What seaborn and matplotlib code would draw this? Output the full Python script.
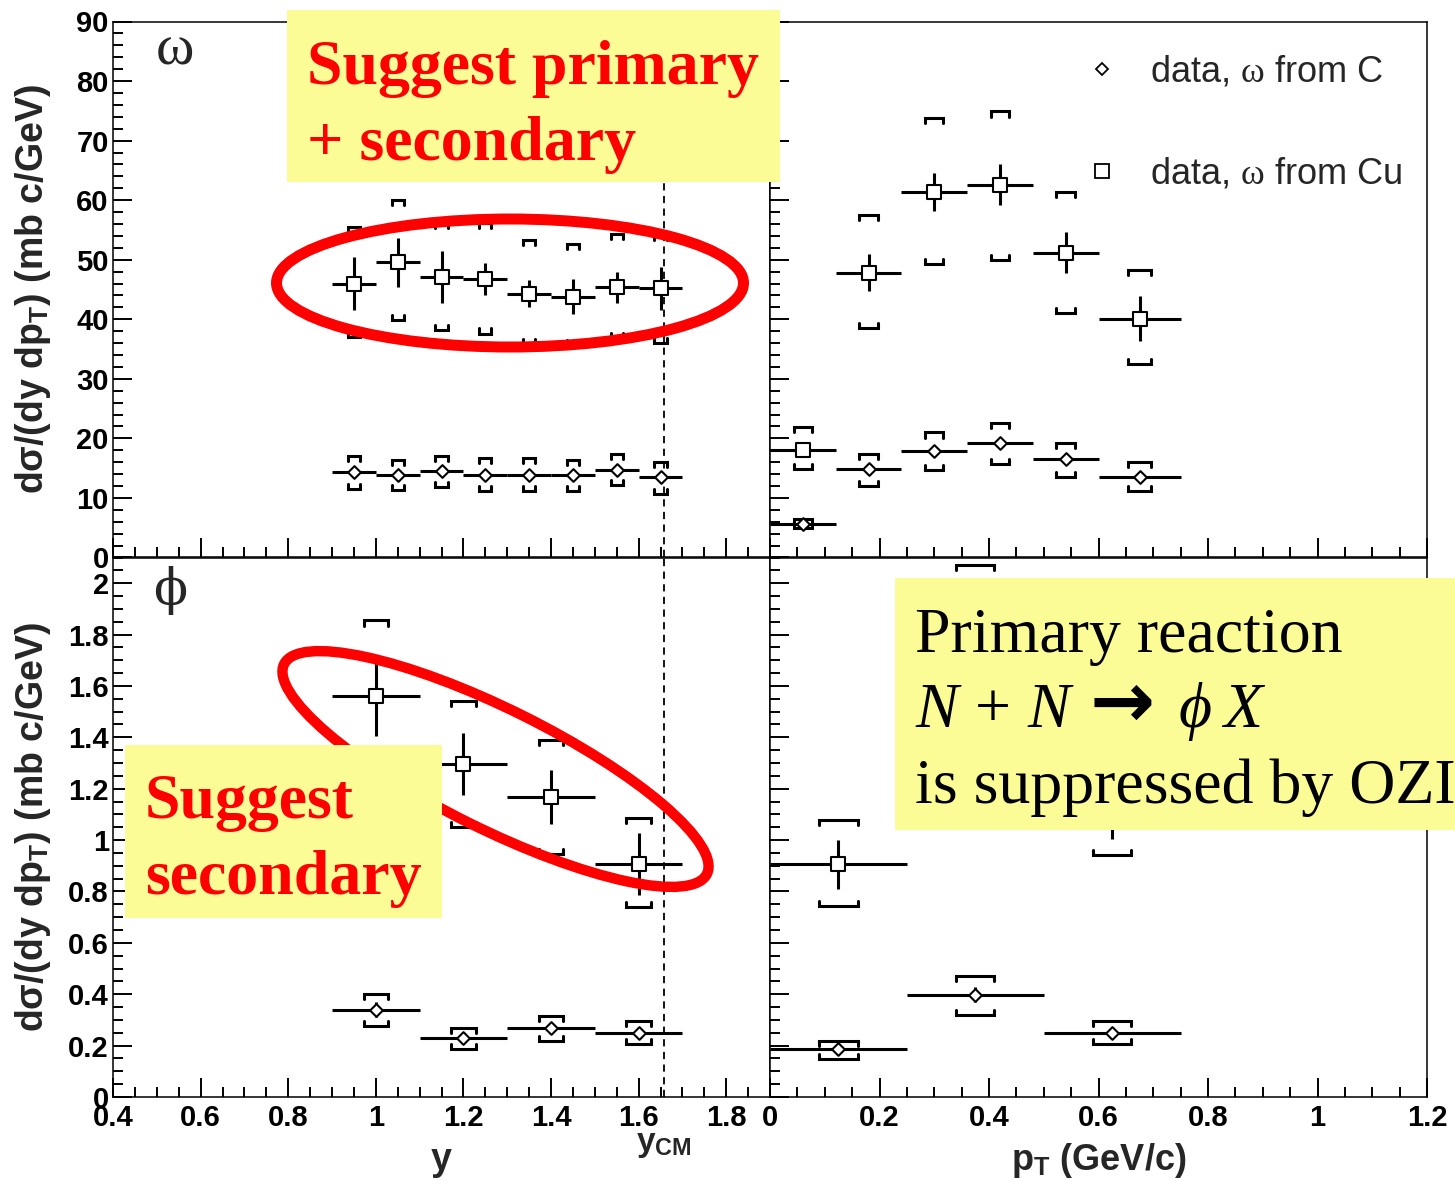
import numpy as np
import matplotlib
matplotlib.use("Agg")
import matplotlib.pyplot as plt
import matplotlib.transforms as mtransforms
import seaborn as sns
from matplotlib.ticker import MultipleLocator, FuncFormatter
from matplotlib.patches import Ellipse, Rectangle
from matplotlib.lines import Line2D

# ---------------- omega vs rapidity ----------------
omega_y = [0.95, 1.05, 1.15, 1.25, 1.35, 1.45, 1.55, 1.65]
omega_y_lo = [0.90, 1.00, 1.10, 1.20, 1.30, 1.40, 1.50, 1.60]
omega_y_hi = [1.00, 1.10, 1.20, 1.30, 1.40, 1.50, 1.60, 1.70]
omega_y_cu = [46.0, 49.6, 47.1, 46.8, 44.3, 43.8, 45.4, 45.2]
omega_y_cu_stat = [4.4, 4.1, 4.4, 2.7, 2.3, 2.9, 2.6, 3.6]
omega_y_cu_sys_hi = [55.5, 60.0, 56.1, 56.1, 53.3, 52.6, 54.4, 54.1]
omega_y_cu_sys_lo = [37.0, 39.8, 38.2, 37.6, 35.9, 35.6, 36.8, 36.0]
omega_y_c = [14.3, 13.8, 14.5, 13.8, 13.8, 13.8, 14.7, 13.6]
omega_y_c_stat = [0.8, 0.8, 0.8, 0.8, 0.8, 0.8, 0.8, 0.8]
omega_y_c_sys_hi = [17.0, 16.4, 17.1, 16.7, 16.7, 16.4, 17.4, 16.0]
omega_y_c_sys_lo = [11.5, 11.3, 11.8, 11.1, 11.1, 11.1, 12.1, 10.7]

# ---------------- omega vs pT ----------------
omega_pt = [0.06, 0.18, 0.30, 0.42, 0.54, 0.675]
omega_pt_lo = [0.00, 0.12, 0.24, 0.36, 0.48, 0.60]
omega_pt_hi = [0.12, 0.24, 0.36, 0.48, 0.60, 0.75]
omega_pt_cu = [18.1, 47.8, 61.4, 62.6, 51.2, 40.1]
omega_pt_cu_stat = [1.0, 3.1, 3.2, 3.4, 3.5, 3.8]
omega_pt_cu_sys_hi = [21.9, 57.5, 73.8, 74.9, 61.4, 48.3]
omega_pt_cu_sys_lo = [14.8, 38.5, 49.3, 50.0, 41.0, 32.5]
omega_pt_c = [5.7, 14.8, 17.8, 19.2, 16.5, 13.6]
omega_pt_c_stat = [0.5, 0.8, 0.8, 0.8, 0.8, 0.8]
omega_pt_c_sys_hi = [6.4, 17.4, 21.0, 22.6, 19.2, 16.0]
omega_pt_c_sys_lo = [5.0, 12.0, 14.7, 15.7, 13.5, 11.1]

# ---------------- phi vs rapidity ----------------
phi_y = [1.0, 1.2, 1.4, 1.6]
phi_y_lo = [0.9, 1.1, 1.3, 1.5]
phi_y_hi = [1.1, 1.3, 1.5, 1.7]
phi_y_cu = [1.559, 1.296, 1.167, 0.907]
phi_y_cu_stat = [0.154, 0.122, 0.105, 0.120]
phi_y_cu_sys_hi = [1.855, 1.543, 1.390, 1.087]
phi_y_cu_sys_lo = [1.260, 1.052, 0.946, 0.740]
phi_y_c = [0.340, 0.230, 0.268, 0.249]
phi_y_c_stat = [0.030, 0.020, 0.020, 0.020]
phi_y_c_sys_hi = [0.402, 0.268, 0.317, 0.296]
phi_y_c_sys_lo = [0.276, 0.186, 0.217, 0.205]

# ---------------- phi vs pT ----------------
phi_pt = [0.125, 0.375, 0.625]
phi_pt_lo = [0.00, 0.25, 0.50]
phi_pt_hi = [0.25, 0.50, 0.75]
phi_pt_cu = [0.906, 1.72, 1.18]
phi_pt_cu_stat = [0.095, 0.17, 0.175]
phi_pt_cu_sys_hi = [1.080, 2.07, 1.42]
phi_pt_cu_sys_lo = [0.742, 1.37, 0.942]
phi_pt_c = [0.186, 0.398, 0.249]
phi_pt_c_stat = [0.015, 0.030, 0.020]
phi_pt_c_sys_hi = [0.217, 0.472, 0.296]
phi_pt_c_sys_lo = [0.146, 0.320, 0.205]

y_cm = 1.657

legend_labels = ["data, $\\mathrm{\\omega}$ from C", "data, $\\mathrm{\\omega}$ from Cu"]
ylabel_text = "d\u03c3/(dy dp$_{\\mathregular{T}}$) (mb c/GeV)"

# ---------------- style ----------------
sns.set_theme(style="white")
plt.rcParams.update({
    "font.family": ["Liberation Sans", "DejaVu Sans"],
    "font.weight": "bold",
    "axes.linewidth": 1.1,
    "axes.edgecolor": "black",
    "mathtext.fontset": "custom",
    "mathtext.rm": "Liberation Serif:weight=normal",
    "mathtext.it": "Liberation Serif:style=italic:weight=normal",
    "mathtext.bf": "Liberation Serif:weight=bold",
})

W, H = 1455, 1181
fig = plt.figure(figsize=(W / 100, H / 100), dpi=100)
fig.patch.set_facecolor("white")


def px_axes(x0, y0, x1, y1):
    return fig.add_axes([x0 / W, 1 - y1 / H, (x1 - x0) / W, (y1 - y0) / H])


ax_tl = px_axes(113, 21.5, 770, 557.5)
ax_tr = px_axes(770, 21.5, 1427, 557.5)
ax_bl = px_axes(113, 557.5, 770, 1097)
ax_br = px_axes(770, 557.5, 1427, 1097)

fmt = FuncFormatter(lambda v, p: f"{v:g}")


def style_axis(ax, xlim, ylim, xmaj, xmin, ymaj, ymin, xlabels, ylabels):
    ax.set_xlim(*xlim)
    ax.set_ylim(*ylim)
    ax.xaxis.set_major_locator(MultipleLocator(xmaj))
    ax.xaxis.set_minor_locator(MultipleLocator(xmin))
    ax.yaxis.set_major_locator(MultipleLocator(ymaj))
    ax.yaxis.set_minor_locator(MultipleLocator(ymin))
    ax.xaxis.set_major_formatter(fmt)
    ax.yaxis.set_major_formatter(fmt)
    ax.tick_params(which="both", direction="in", top=False, right=False,
                   bottom=True, left=True, width=1.4, color="black",
                   labelsize=21, labelcolor="black")
    ax.tick_params(which="major", length=14)
    ax.tick_params(which="minor", length=7)
    ax.tick_params(axis="x", labelbottom=xlabels, pad=5)
    ax.tick_params(axis="y", labelleft=ylabels, pad=3)
    ax.set_facecolor("white")
    ax.grid(False)
    for s in ax.spines.values():
        s.set_color("black")
        s.set_linewidth(1.1)


style_axis(ax_tl, (0.4, 1.9), (0, 90), 0.2, 0.05, 10, 2, False, True)
style_axis(ax_tr, (0, 1.2), (0, 90), 0.2, 0.05, 10, 2, False, False)
style_axis(ax_bl, (0.4, 1.9), (0, 2.1), 0.2, 0.05, 0.2, 0.05, True, True)
style_axis(ax_br, (0, 1.2), (0, 2.1), 0.2, 0.05, 0.2, 0.05, True, False)


def draw_points(ax, x, xlo, xhi, y, stat, slo, shi, marker, msize):
    x = np.asarray(x, float)
    xlo = np.asarray(xlo, float)
    xhi = np.asarray(xhi, float)
    y = np.asarray(y, float)
    y0, y1 = ax.get_ylim()
    bh = 0.0095 * (y1 - y0)
    ax.errorbar(x, y, xerr=[x - xlo, xhi - x], yerr=stat, fmt="none",
                ecolor="black", elinewidth=2.2, capsize=0, zorder=3)
    for xi, lo, hi, w in zip(x, slo, shi, 0.14 * (xhi - xlo)):
        ax.plot([xi - w, xi - w, xi + w, xi + w], [hi - bh, hi, hi, hi - bh],
                color="black", lw=2.2, zorder=3, solid_joinstyle="miter")
        ax.plot([xi - w, xi - w, xi + w, xi + w], [lo + bh, lo, lo, lo + bh],
                color="black", lw=2.2, zorder=3, solid_joinstyle="miter")
    sns.scatterplot(x=x, y=y, marker=marker, s=msize, color="white",
                    edgecolor="black", linewidth=1.5, ax=ax, zorder=4,
                    legend=False)


SQ, DM = 110, 42
draw_points(ax_tl, omega_y, omega_y_lo, omega_y_hi, omega_y_cu, omega_y_cu_stat,
            omega_y_cu_sys_lo, omega_y_cu_sys_hi, "s", SQ)
draw_points(ax_tl, omega_y, omega_y_lo, omega_y_hi, omega_y_c, omega_y_c_stat,
            omega_y_c_sys_lo, omega_y_c_sys_hi, "D", DM)
draw_points(ax_tr, omega_pt, omega_pt_lo, omega_pt_hi, omega_pt_cu, omega_pt_cu_stat,
            omega_pt_cu_sys_lo, omega_pt_cu_sys_hi, "s", SQ)
draw_points(ax_tr, omega_pt, omega_pt_lo, omega_pt_hi, omega_pt_c, omega_pt_c_stat,
            omega_pt_c_sys_lo, omega_pt_c_sys_hi, "D", DM)
draw_points(ax_bl, phi_y, phi_y_lo, phi_y_hi, phi_y_cu, phi_y_cu_stat,
            phi_y_cu_sys_lo, phi_y_cu_sys_hi, "s", SQ)
draw_points(ax_bl, phi_y, phi_y_lo, phi_y_hi, phi_y_c, phi_y_c_stat,
            phi_y_c_sys_lo, phi_y_c_sys_hi, "D", DM)
draw_points(ax_br, phi_pt, phi_pt_lo, phi_pt_hi, phi_pt_cu, phi_pt_cu_stat,
            phi_pt_cu_sys_lo, phi_pt_cu_sys_hi, "s", SQ)
draw_points(ax_br, phi_pt, phi_pt_lo, phi_pt_hi, phi_pt_c, phi_pt_c_stat,
            phi_pt_c_sys_lo, phi_pt_c_sys_hi, "D", DM)

# centre-of-mass rapidity
for ax in (ax_tl, ax_bl):
    ax.axvline(y_cm, color="black", lw=1.3, ls=(0, (4, 3)), zorder=2)

# axis titles
for ax in (ax_tl, ax_bl):
    ax.set_ylabel(ylabel_text, fontsize=27, fontweight="bold", va="center")
    ax.yaxis.set_label_coords(-0.122, 0.5)
ax_bl.set_xlabel("y", fontsize=27, fontweight="bold", va="baseline")
ax_bl.xaxis.set_label_coords(0.5, -0.135)
ax_br.set_xlabel("p$_{\\mathregular{T}}$ (GeV/c)", fontsize=26,
                 fontweight="bold", va="baseline")
ax_br.xaxis.set_label_coords(0.5, -0.135)
trans = mtransforms.blended_transform_factory(ax_bl.transData, ax_bl.transAxes)
ax_bl.text(y_cm, -0.100, "y$_{\\mathregular{CM}}$", transform=trans,
           ha="center", va="baseline", fontsize=24, fontweight="bold")

# meson symbols
ax_tl.text(0.094, 0.945, "\u03c9", transform=ax_tl.transAxes, ha="center",
           va="center", fontsize=42, fontweight="normal",
           family=["Liberation Serif", "DejaVu Serif"])
ax_bl.text(0.087, 0.94, "\u03d5", transform=ax_bl.transAxes, ha="center",
           va="center", fontsize=36, fontweight="normal",
           family=["DejaVu Serif"])

# legend
handles = [
    Line2D([], [], ls="none", marker="D", ms=6.5, mfc="white", mec="black", mew=1.3),
    Line2D([], [], ls="none", marker="s", ms=10, mfc="white", mec="black", mew=1.3),
]
ax_tr.legend(handles, legend_labels, loc="upper left",
             bbox_to_anchor=(1085 / W, 1 - 55 / H), bbox_transform=fig.transFigure,
             frameon=False, prop=dict(family=["Liberation Sans", "DejaVu Sans"],
                                      weight="normal", size=26),
             handlelength=0.95, handletextpad=0.85, labelspacing=1.85,
             borderpad=0, borderaxespad=0)

# ---------------- callouts ----------------
ov = fig.add_axes([0, 0, 1, 1], zorder=10)
ov.set_xlim(0, W)
ov.set_ylim(H, 0)
ov.set_axis_off()
ov.patch.set_alpha(0)

yellow = "#FCFC96"
ov.add_patch(Ellipse((510, 283), 467, 128, angle=0, fill=False, ec="red", lw=7.9, zorder=1))
ov.add_patch(Ellipse((495.5, 769), 472, 120, angle=26.4, fill=False, ec="red", lw=7.5, zorder=1))
ov.add_patch(Rectangle((287, 10), 493, 172, fc=yellow, ec="none", zorder=2))
ov.add_patch(Rectangle((125, 745), 317, 173, fc=yellow, ec="none", zorder=2))
ov.add_patch(Rectangle((895, 578), 560, 252, fc=yellow, ec="none", zorder=2))

serif = ["Liberation Serif", "DejaVu Serif"]
red_kw = dict(color="red", fontweight="bold", family=serif, va="baseline",
              ha="left", zorder=3)
ov.text(307, 84, "Suggest primary", fontsize=46, **red_kw)
ov.text(307, 160, "+ secondary", fontsize=46, **red_kw)
ov.text(145, 818, "Suggest", fontsize=46, **red_kw)
ov.text(145, 894, "secondary", fontsize=46, **red_kw)

blk_kw = dict(color="black", fontweight="normal", family=serif, va="baseline",
              ha="left", zorder=3)
ov.text(915, 652, "Primary reaction", fontsize=46, **blk_kw)
ov.text(915, 727, "$N\\,+\\,N$", fontsize=46, **blk_kw)
ov.text(1090, 727, "\u2192", fontsize=56, color="black", fontweight="bold",
        family=["DejaVu Sans"], va="baseline", ha="left", zorder=3)
ov.text(1178, 727, "$\\phi\\;X$", fontsize=46, **blk_kw)
ov.text(915, 803, "is suppressed by OZI", fontsize=46, **blk_kw)

fig.savefig("out.png", dpi=100)
